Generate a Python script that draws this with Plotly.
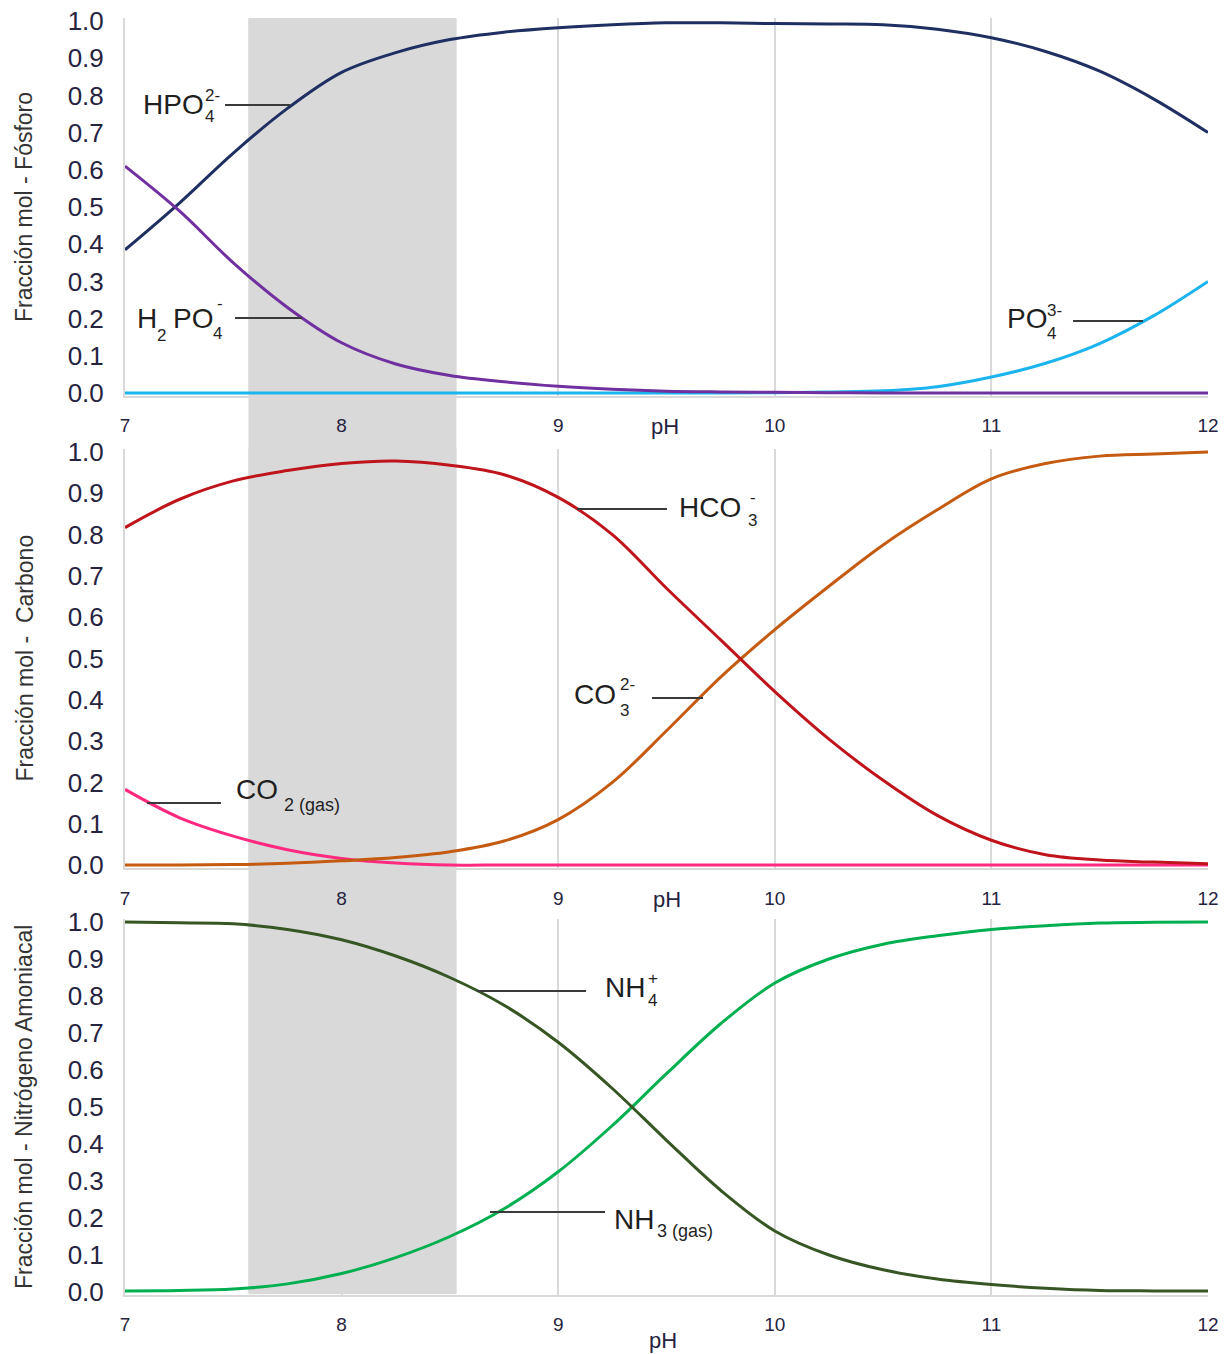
import plotly.graph_objects as go

# ---------------------------------------------------------------- data
# pH grid shared by every species curve
ph = [7.0, 7.25, 7.5, 7.75, 8.0, 8.25, 8.5, 8.75, 9.0, 9.25, 9.5,
      9.75, 10.0, 10.25, 10.5, 10.75, 11.0, 11.25, 11.5, 11.75, 12.0]

# Phosphorus species (mol fraction)
h2po4 = [0.61, 0.49, 0.35, 0.23, 0.135, 0.078, 0.047, 0.03, 0.018, 0.01, 0.005,
         0.003, 0.002, 0.001, 0.0, 0.0, 0.0, 0.0, 0.0, 0.0, 0.0]
hpo4 = [0.385, 0.51, 0.645, 0.765, 0.862, 0.915, 0.95, 0.97, 0.982, 0.99, 0.995,
        0.995, 0.993, 0.992, 0.99, 0.978, 0.955, 0.918, 0.865, 0.79, 0.70]
po4 = [0.0, 0.0, 0.0, 0.0, 0.0, 0.0, 0.0, 0.0, 0.0, 0.0, 0.0,
       0.0, 0.001, 0.003, 0.006, 0.017, 0.043, 0.08, 0.133, 0.208, 0.30]

# Carbon species (mol fraction)
co2_gas = [0.183, 0.115, 0.07, 0.037, 0.016, 0.005, 0.0, 0.0, 0.0, 0.0, 0.0,
           0.0, 0.0, 0.0, 0.0, 0.0, 0.0, 0.0, 0.0, 0.0, 0.0]
hco3 = [0.817, 0.885, 0.93, 0.955, 0.972, 0.978, 0.968, 0.945, 0.89, 0.80, 0.67,
        0.545, 0.42, 0.305, 0.205, 0.12, 0.06, 0.025, 0.012, 0.007, 0.003]
co3 = [0.0, 0.0, 0.001, 0.004, 0.01, 0.018, 0.032, 0.058, 0.11, 0.2, 0.325,
       0.455, 0.57, 0.675, 0.775, 0.86, 0.935, 0.972, 0.99, 0.995, 1.0]

# Ammonia nitrogen species (mol fraction)
nh4 = [1.0, 0.998, 0.995, 0.98, 0.952, 0.908, 0.85, 0.775, 0.675, 0.55, 0.41,
       0.275, 0.165, 0.1, 0.06, 0.035, 0.02, 0.01, 0.004, 0.003, 0.003]
nh3_gas = [0.003, 0.004, 0.008, 0.022, 0.05, 0.093, 0.15, 0.225, 0.325, 0.45, 0.59,
           0.725, 0.835, 0.9, 0.94, 0.963, 0.98, 0.99, 0.997, 0.999, 1.0]

x_ticks = [7, 8, 9, 10, 11, 12]
y_ticks = [0.0, 0.1, 0.2, 0.3, 0.4, 0.5, 0.6, 0.7, 0.8, 0.9, 1.0]
y_ticktext = ["0.0", "0.1", "0.2", "0.3", "0.4", "0.5", "0.6", "0.7", "0.8", "0.9", "1.0"]
y_titles = ["Fracción mol - Fósforo",
            "Fracción mol -\u00a0 Carbono",
            "Fracción mol - Nitrógeno Amoniacal"]
band_ph = [7.57, 8.53]   # highlighted operating pH window

# ---------------------------------------------------------------- styling
W, H = 1230, 1354
FONT = "Liberation Sans, Arial, sans-serif"
GRID = "#d9d9d9"
BAND = "#d9d9d9"
TICK = "#26233f"
TEXT = "#1f1f1f"
LEADER = "#3a3a3a"

X7, X12 = 125, 1208                                # pixel columns of pH 7 and 12
PANELS = [(21, 393), (452, 865), (922, 1292)]      # pixel rows of y=1 and y=0
PAD = 0.007


def fx(p):
    return p / W


def fy(p):
    return 1 - p / H


series = [
    [(po4, "#1cb4ee"), (hpo4, "#1f2f62"), (h2po4, "#7030a0")],
    [(co2_gas, "#ff2a7f"), (co3, "#c55a11"), (hco3, "#c0141c")],
    [(nh3_gas, "#00b050"), (nh4, "#375623")],
]

fig = go.Figure()
layout = dict(
    template="none",
    width=W, height=H, autosize=False,
    margin=dict(l=0, r=0, t=0, b=0, pad=0, autoexpand=False),
    paper_bgcolor="white", plot_bgcolor="white",
    showlegend=False,
    font=dict(family=FONT, color=TEXT),
)

shapes = []
annotations = []

# the pH window runs through all three panels and the gaps between them
shapes.append(dict(type="rect", xref="x", yref="paper",
                   x0=band_ph[0], x1=band_ph[1], y0=fy(1293), y1=fy(18),
                   fillcolor=BAND, line=dict(width=0), layer="below"))

for i, (ytop, ybot) in enumerate(PANELS):
    n = i + 1
    sfx = "" if n == 1 else str(n)
    s = ybot - ytop
    layout["xaxis" + sfx] = dict(
        domain=[fx(X7), fx(X12)], range=[7, 12], anchor="y" + sfx,
        automargin=False,
        tickvals=x_ticks, ticks="", showgrid=True, gridcolor=GRID, gridwidth=2,
        showline=True, linecolor=GRID, linewidth=2, zeroline=False,
        tickfont=dict(family=FONT, size=19, color=TICK), ticklabelstandoff=12,
        fixedrange=True,
    )
    layout["yaxis" + sfx] = dict(
        domain=[fy(ybot + PAD * s), fy(ytop - PAD * s)], range=[-PAD, 1 + PAD],
        anchor="x" + sfx, automargin=False,
        tickvals=y_ticks, ticktext=y_ticktext, ticks="",
        showgrid=False, showline=True, linecolor=GRID, linewidth=2, zeroline=False,
        tickfont=dict(family=FONT, size=26, color=TICK), ticklabelstandoff=14,
        fixedrange=True,
    )
    for vals, color in series[i]:
        fig.add_trace(go.Scatter(
            x=ph, y=vals, mode="lines", xaxis="x" + sfx, yaxis="y" + sfx,
            line=dict(color=color, width=3, shape="spline", smoothing=1.0),
            hoverinfo="skip",
        ))
    # pH window inside the panel, painted over the grid but under the curves
    shapes.append(dict(type="rect", xref="x" + sfx, yref="y" + sfx,
                       x0=band_ph[0], x1=band_ph[1], y0=-PAD, y1=1 + PAD,
                       fillcolor=BAND, line=dict(width=0), layer="between"))
    # y-axis title
    annotations.append(dict(
        text=y_titles[i], textangle=-90, xref="paper", yref="paper",
        x=fx(24), y=fy((ytop + ybot) / 2), showarrow=False,
        xanchor="center", yanchor="middle",
        font=dict(family=FONT, size=23, color="#333333"),
    ))

# "pH" axis titles
for cx, cy in [(665, 426), (667, 899), (663, 1340)]:
    annotations.append(dict(text="pH", xref="paper", yref="paper",
                            x=fx(cx), y=fy(cy), showarrow=False,
                            xanchor="center", yanchor="middle",
                            font=dict(family=FONT, size=22, color=TICK)))


def txt(t, x, y, size, anchor="left"):
    annotations.append(dict(text=t, xref="paper", yref="paper", x=fx(x), y=fy(y),
                            showarrow=False, xanchor=anchor, yanchor="middle",
                            borderpad=0, borderwidth=0,
                            font=dict(family=FONT, size=size, color=TEXT)))


def leader(x0, x1, y):
    shapes.append(dict(type="line", xref="paper", yref="paper",
                       x0=fx(x0), x1=fx(x1), y0=fy(y), y1=fy(y),
                       line=dict(color=LEADER, width=2), layer="above"))


MAIN, SMALL, GAS = 28, 17, 18

# HPO4 2-
txt("HPO", 204, 104, MAIN, "right")
txt("2-", 205, 95, SMALL)
txt("4", 205, 116, SMALL)
leader(225, 290, 105)

# H2PO4 -
txt("H", 157, 318, MAIN, "right")
txt("2", 157, 335, SMALL)
txt("PO", 213, 318, MAIN, "right")
txt("-", 217, 303, SMALL)
txt("4", 213, 334, SMALL)
leader(235, 302, 318)

# PO4 3-
txt("PO", 1047, 319, MAIN, "right")
txt("3-", 1047, 311, SMALL)
txt("4", 1047, 333, SMALL)
leader(1073, 1143, 321)

# HCO3 -
txt("HCO", 741, 507, MAIN, "right")
txt("-", 750, 497, SMALL)
txt("3", 748, 521, SMALL)
leader(577, 667, 509)

# CO3 2-
txt("CO", 616, 694, MAIN, "right")
txt("2-", 620, 684, SMALL)
txt("3", 620, 710, SMALL)
leader(652, 703, 698)

# CO2 (gas)
txt("CO", 278, 789, MAIN, "right")
txt("2 (gas)", 284, 805, GAS)
leader(147, 221, 803)

# NH4 +
txt("NH", 645, 987, MAIN, "right")
txt("+", 648, 978, SMALL)
txt("4", 648, 1000, SMALL)
leader(477, 586, 991)

# NH3 (gas)
txt("NH", 654, 1219, MAIN, "right")
txt("3 (gas)", 657, 1231, GAS)
leader(490, 605, 1212)

layout["shapes"] = shapes
layout["annotations"] = annotations
fig.update_layout(**layout)

fig.write_html("out.html", config={"displayModeBar": False})
